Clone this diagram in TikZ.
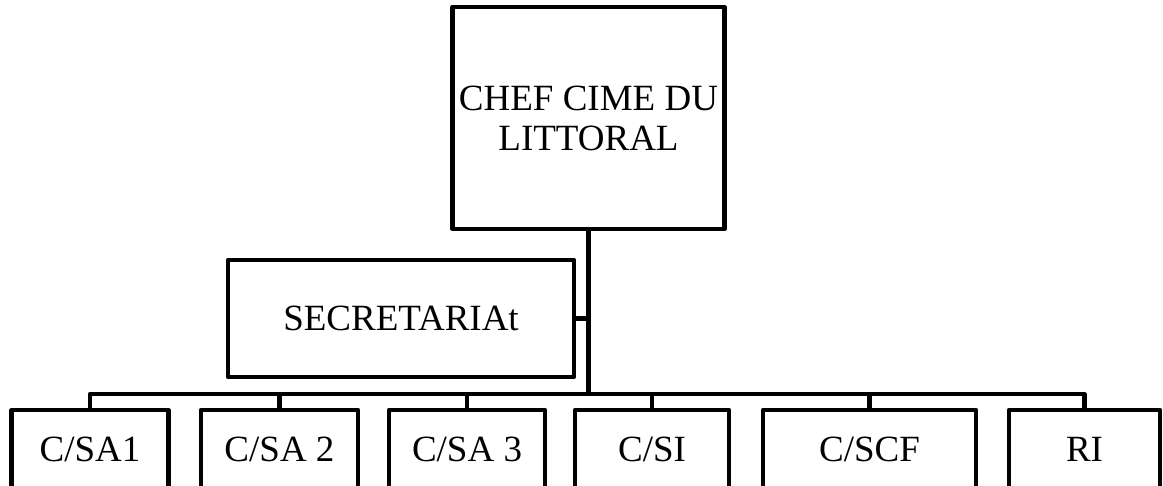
\documentclass[tikz,border=0pt]{standalone}
\usepackage{fontspec}
\setmainfont{Liberation Serif}
\begin{document}
\begin{tikzpicture}[x=1pt,y=-1pt,
  box/.style={draw=black, line width=4.2pt, line join=round, inner sep=0pt, align=center,
    font=\fontsize{37}{40}\selectfont},
  conn/.style={draw=black, line width=4.2pt, line join=round}]
\useasboundingbox (0,0) rectangle (1163,486);
\clip (0,0) rectangle (1163,486);
\fill[white] (0,0) rectangle (1163,486);
\node[box, minimum width=272pt, minimum height=222pt] (chef) at (588.5,118) {CHEF CIME DU\\LITTORAL};
\node[box, minimum width=346pt, minimum height=117pt] (sec) at (401,318.5) {SECRETARIAt};
\node[box, minimum width=157pt, minimum height=78pt] (a1) at (90,449) {C/SA1};
\node[box, minimum width=157pt, minimum height=78pt] (a2) at (279.5,449) {C/SA 2};
\node[box, minimum width=156pt, minimum height=78pt] (a3) at (467,449) {C/SA 3};
\node[box, minimum width=154pt, minimum height=78pt] (si) at (652,449) {C/SI};
\node[box, minimum width=213pt, minimum height=78pt] (scf) at (869.5,449) {C/SCF};
\node[box, minimum width=151pt, minimum height=78pt] (ri) at (1084.5,449) {RI};
\coordinate (j) at (588.5,394);
\draw[conn] (chef.south) -- (j);
\draw[conn] (sec.east) -- (sec.east -| j);
\draw[conn] (a1.north) |- (j) -| (ri.north);
\draw[conn] (a2.north) -- (a2.north |- j);
\draw[conn] (a3.north) -- (a3.north |- j);
\draw[conn] (si.north) -- (si.north |- j);
\draw[conn] (scf.north) -- (scf.north |- j);
\end{tikzpicture}
\end{document}
